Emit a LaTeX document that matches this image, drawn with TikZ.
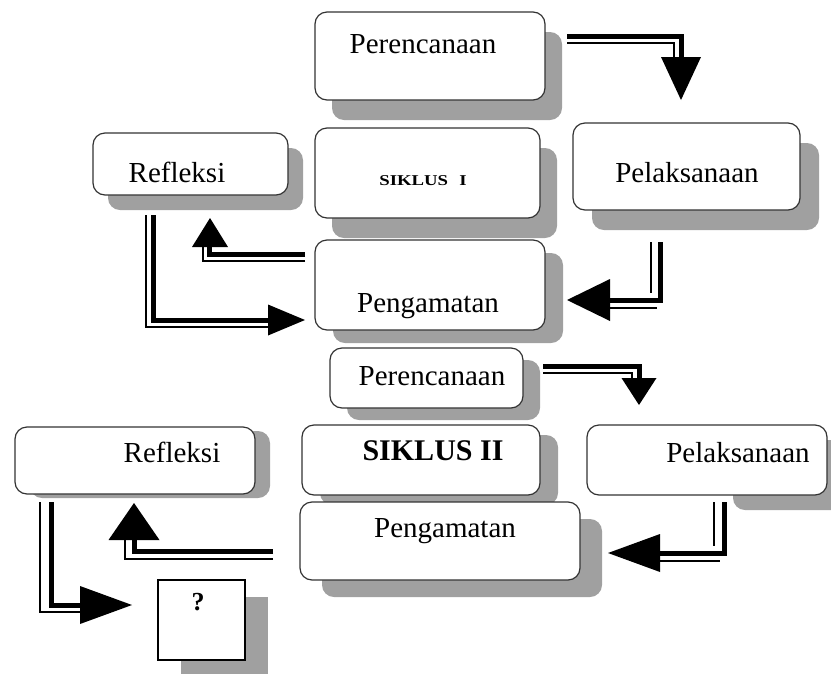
\documentclass[tikz,border=0pt]{standalone}
\usepackage{fontspec}
\usepackage{graphicx}
\setmainfont{Liberation Serif}
\usetikzlibrary{shadows}
\definecolor{shgray}{HTML}{A0A0A0}
\definecolor{edgec}{HTML}{333333}
\newcommand\mkheadD[3]{\fill (#1) -- ++(-#2/2,-#3) -- ++(#2,0) -- cycle;}
\newcommand\mkheadU[3]{\fill (#1) -- ++(-#2/2,#3) -- ++(#2,0) -- cycle;}
\newcommand\mkheadL[3]{\fill (#1) -- ++(#3,-#2/2) -- ++(0,#2) -- cycle;}
\newcommand\mkheadR[3]{\fill (#1) -- ++(-#3,-#2/2) -- ++(0,#2) -- cycle;}
\tikzset{
  box/.style={draw=edgec, line width=1.2pt, fill=white, rounded corners=12pt, inner sep=0pt},
  sqbox/.style={draw=black, line width=1.2pt, fill=white, inner sep=0pt},
  shd/.style 2 args={drop shadow={shadow xshift=#1pt, shadow yshift=-#2pt, fill=shgray, opacity=1}},
  lbl/.style={font=\fontsize{29}{34}\selectfont, anchor=base, inner sep=0pt},
  thk/.style={line width=5pt, black},
  thn/.style={line width=1.6pt, black},
}
\begin{document}
\begin{tikzpicture}[x=1pt,y=-1pt]
\useasboundingbox (0,0) rectangle (831,673);
% ---- boxes ----
\node[box, shd={17}{20}, minimum width=230pt, minimum height=88pt] (per1) at (430,56) {};
\node[box, shd={17}{20}, minimum width=225pt, minimum height=90pt] (sik1) at (427.5,173) {};
\node[box, shd={19}{20}, minimum width=227pt, minimum height=87pt] (pel1) at (686.5,166.5) {};
\node[box, shd={15}{15}, minimum width=195pt, minimum height=62pt] (ref1) at (190.5,164) {};
\node[box, shd={18}{13}, minimum width=230pt, minimum height=90pt] (pen1) at (430,285) {};
\node[box, shd={17}{12}, minimum width=193pt, minimum height=60pt] (per2) at (426.5,378) {};
\node[box, shd={18}{10}, minimum width=238pt, minimum height=70pt] (sik2) at (421,460) {};
\node[box, shd={15}{4}, minimum width=240pt, minimum height=67pt] (ref2) at (135,460.5) {};
\node[box, shd={146}{15}, minimum width=240pt, minimum height=70pt] (pel2) at (707,460) {};
\node[box, shd={22}{17}, minimum width=280pt, minimum height=78pt] (pen2) at (440,541) {};
\node[sqbox, shd={23}{17}, minimum width=87pt, minimum height=80pt] (q) at (201.5,620) {};
% ---- texts ----
\node[lbl] (tper1) at (423,53) {Perencanaan};
\node[lbl, font=\bfseries\fontsize{15}{18}\selectfont] (tsik1) at (423,185) {\scalebox{1.25}[1]{SIKLUS\hspace{0.6em}I}};
\node[lbl] (tpel1) at (687,182) {Pelaksanaan};
\node[lbl] (tref1) at (177,182) {Refleksi};
\node[lbl] (tpen1) at (428,312) {Pengamatan};
\node[lbl] (tper2) at (432,385) {Perencanaan};
\node[lbl, font=\bfseries\fontsize{30}{34}\selectfont] (tsik2) at (433,460) {SIKLUS II};
\node[lbl] (tref2) at (172,462) {Refleksi};
\node[lbl] (tpel2) at (738,462) {Pelaksanaan};
\node[lbl] (tpen2) at (445,537) {Pengamatan};
\node[lbl, font=\bfseries\fontsize{26}{30}\selectfont] (tq) at (198,610) {?};
% ---- arrow coordinates ----
\coordinate (a1t) at (681,100);
\coordinate (a2t) at (567,300);
\coordinate (a3t) at (210,218);
\coordinate (a4t) at (305,320);
\coordinate (a5t) at (639,405);
\coordinate (a6t) at (608,553);
\coordinate (a7t) at (134,503);
\coordinate (a8t) at (132,605);
% A1 per1 -> pel1
\draw[thn] (567,43) -- (674,43) -- (674,62);
\draw[thk, shorten >=20pt] (567,36) -- (681,36) -- (a1t);
\mkheadD{a1t}{40}{43}
% A2 pel1 -> pen1
\draw[thn] (651,242) -- (651,293);
\draw[thn] (610,308) -- (657,308);
\draw[thk, shorten >=20pt] (660,242) -- (660,300) -- (a2t);
\mkheadL{a2t}{42}{43}
% A3 pen1 -> ref1
\draw[thn] (305,261) -- (203,261) -- (203,245);
\draw[thk, shorten >=12pt] (305,254) -- (209,254) -- (209,218);
\mkheadU{a3t}{36}{29}
% A4 ref1 -> pen1
\draw[thn] (146,215) -- (146,327) -- (268,327);
\draw[thk, shorten >=15pt] (153,215) -- (153,320) -- (a4t);
\mkheadR{a4t}{31}{37}
% A5 per2 -> pel2
\draw[thn] (543,373) -- (632,373) -- (632,385);
\draw[thk, shorten >=12pt] (543,366) -- (639,366) -- (a5t);
\mkheadD{a5t}{35}{27}
% A6 pel2 -> pen2
\draw[thn] (714,502) -- (714,546);
\draw[thn] (660,561) -- (720,561);
\draw[thk, shorten >=20pt] (724,502) -- (724,553) -- (a6t);
\mkheadL{a6t}{38}{52}
% A7 pen2 -> ref2
\draw[thn] (273,559) -- (125,559) -- (125,540);
\draw[thk, shorten >=15pt] (273,551) -- (134,551) -- (a7t);
\mkheadU{a7t}{51}{37}
% A8 ref2 -> q
\draw[thn] (40,502) -- (40,612) -- (80,612);
\draw[thk, shorten >=20pt] (51,502) -- (51,605) -- (a8t);
\mkheadR{a8t}{38}{52}
\end{tikzpicture}
\end{document}
